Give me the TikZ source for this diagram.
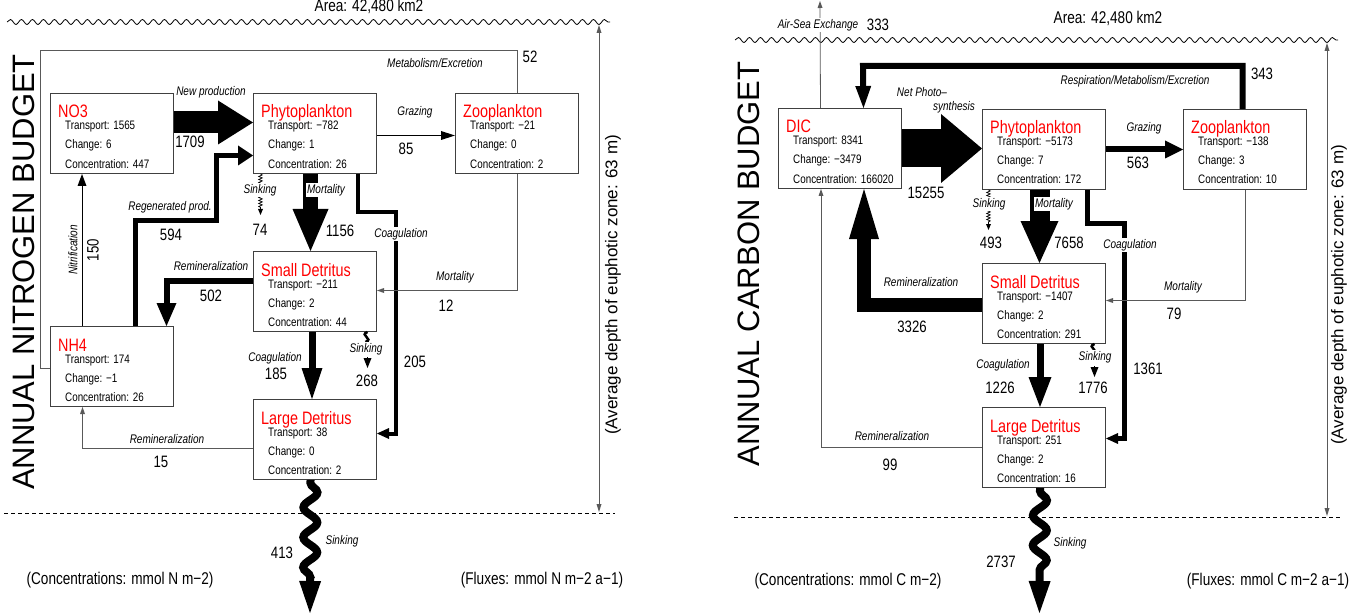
\documentclass[tikz,border=0pt]{standalone}
\usepackage{fontspec}
\setmainfont{Liberation Sans}
\newfontfamily\cf{Liberation Sans}[FakeStretch=0.8]
\usetikzlibrary{arrows.meta, decorations.pathmorphing}

% one compartment: box plus its four lines of text
\newcommand{\compartment}[6]{%
  \node [box] (#1) at (#2) {};
  \node [boxtitle] (#1-name) at ([shift={(8pt,-25pt)}]#1.north west) {#3};
  \node [boxline] (#1-tr) at ([shift={(15pt,-37pt)}]#1.north west) {Transport: #4};
  \node [boxline] (#1-ch) at ([shift={(15pt,-56pt)}]#1.north west) {Change: #5};
  \node [boxline] (#1-co) at ([shift={(15pt,-75pt)}]#1.north west) {Concentration: #6};
}

\begin{document}
\begin{tikzpicture}[
    x=1pt, y=-1pt,
    box/.style={draw=black!75, line width=1pt, fill=white, anchor=north west, minimum width=123pt, minimum height=80pt, inner sep=0pt},
    boxtitle/.style={anchor=base west, inner sep=0pt, text=red, font=\cf\fontsize{18}{18}\selectfont},
    boxline/.style={anchor=base west, inner sep=0pt, font=\cf\fontsize{12.3}{12}\selectfont},
    lab/.style={inner sep=1pt, font=\cf\itshape\fontsize{12.5}{13}\selectfont},
    wlab/.style={lab, fill=white},
    num/.style={inner sep=0pt, font=\cf\fontsize{16.5}{17}\selectfont},
    note/.style={inner sep=0pt, font=\cf\fontsize{17}{17}\selectfont},
    budget/.style={rotate=90, inner sep=0pt, font=\fontsize{31}{31}\selectfont},
    depthtext/.style={rotate=90, inner sep=0pt, font=\fontsize{17}{17}\selectfont},
    fat/.style n args={3}{line width=#1, -{Triangle[length=#2, width=#3, line width=0pt]}},
    thinline/.style={black!65, line width=0.8pt},
    thinflow/.style={thinline, -{Triangle[length=7pt, width=5pt, line width=0pt]}},
    depthline/.style={thinline, {Triangle[length=8pt, width=5pt, line width=0pt]}-{Triangle[length=8pt, width=5pt, line width=0pt]}},
    surface/.style={line width=0.8pt, decorate, decoration={snake, amplitude=2.5pt, segment length=11pt}},
    horizon/.style={line width=0.7pt, dash pattern=on 4pt off 3pt},
    squiggle/.style={line width=0.7pt, decorate, decoration={snake, amplitude=1.8pt, segment length=3pt, post length=7pt}, -{Triangle[length=6pt, width=5pt, line width=0pt]}},
    hook/.style={line width=2.5pt},
    bigsink/.style={line width=8pt, decorate, decoration={snake, amplitude=7pt, segment length=30pt, pre length=3pt, post length=34pt}, -{Triangle[length=32pt, width=22pt, line width=0pt]}}
]
\useasboundingbox (0,0) rectangle (1369,615);

% ---------------- nitrogen budget ----------------
\draw [surface] (7,22) -- (610,22);
\draw [horizon] (4,513) -- (615,513);
\draw [depthline] (599,25) -- (599,512);
\node [note, anchor=base] (narea) at (369,11.5) {Area: 42,480 km2};
\node [budget] (ntitle) at (24,272) {ANNUAL NITROGEN BUDGET};
\node [depthtext] (ndepth) at (613,285) {(Average depth of euphotic zone: 63 m)};

\compartment{no3}{50,93}{NO3}{1565}{6}{447}
\compartment{phyn}{253,93}{Phytoplankton}{−782}{1}{26}
\compartment{zoon}{455,93}{Zooplankton}{−21}{0}{2}
\compartment{sdn}{253,251}{Small Detritus}{−211}{2}{44}
\compartment{nh4}{50,326}{NH4}{174}{−1}{26}
\compartment{ldn}{253,399}{Large Detritus}{38}{0}{2}

\coordinate (nsinkend) at (310,613);
\coordinate (nsdsink) at ([xshift=52.5pt]sdn.south);

\draw [fat={22pt}{35pt}{44pt}] ([yshift=11pt]no3.east) -- ([yshift=11pt]phyn.west);
\draw [fat={5pt}{15pt}{20pt}] ([xshift=23pt]nh4.north) -- ++(0,-106) -- ++(81.5,0) |- ([yshift=-22pt]phyn.west);
\draw [line width=1pt, -{Triangle[length=12pt, width=9pt, line width=0pt]}] ([xshift=-30pt]nh4.north) -- ([xshift=-30pt]no3.south);
\draw [thinline] (zoon.north) |- (40,50) |- ([yshift=-2pt]nh4.west);
\draw [line width=1pt, -{Triangle[length=14pt, width=9pt, line width=0pt]}] ([yshift=-2pt]phyn.east) -- ([yshift=-2pt]zoon.west);
\draw [fat={15pt}{42pt}{36pt}] ([xshift=-4.5pt]phyn.south) -- ([xshift=-4.5pt]sdn.north);
\draw [squiggle] ([xshift=-54.5pt]phyn.south) -- ++(0,41);
\draw [fat={4pt}{12pt}{11pt}] ([xshift=43pt]phyn.south) |- (396,212) |- ([yshift=6pt]ldn.east);
\draw [fat={6pt}{23pt}{20pt}] ([yshift=11pt]sdn.west) -| ([xshift=54.5pt]nh4.north);
\draw [thinflow] (zoon.south) |- ([yshift=1pt]sdn.east);
\draw [fat={7pt}{31pt}{21pt}] ([xshift=-3pt]sdn.south) -- ([xshift=-3pt]ldn.north);
\draw [hook] (nsdsink) .. controls ([shift={(-9pt,-3pt)}]nsdsink) and ([shift={(7pt,-7pt)}]nsdsink) .. ([shift={(-2pt,-10pt)}]nsdsink);
\draw [-{Triangle[length=10pt, width=8pt, line width=0pt]}] ([yshift=-25pt]nsdsink) -- ([yshift=-36pt]nsdsink);
\draw [thinflow] ([yshift=-9pt]ldn.west) -| ([xshift=-29.5pt]nh4.south);
\draw [bigsink] ([xshift=-4.5pt]ldn.south) -- (nsinkend);

\node [lab] (nnewprod) at (211,92) {New production};
\node [num] (nnewprodv) at (190,142) {1709};
\node [lab] (nregen) at (170,207) {Regenerated prod.};
\node [num] (nregenv) at (171,235) {594};
\node [lab, rotate=90] (nnitri) at (73,250) {Nitrification};
\node [num, rotate=90] (nnitriv) at (93,250) {150};
\node [lab] (nmetab) at (435,63) {Metabolism/Excretion};
\node [num] (nmetabv) at (530,57) {52};
\node [lab] (ngraz) at (415,112) {Grazing};
\node [num] (ngrazv) at (406,149) {85};
\node [wlab] (nmort) at (326,190) {Mortality};
\node [num] (nmortv) at (340,231) {1156};
\node [wlab] (nsinkp) at (260,190) {Sinking};
\node [num] (nsinkpv) at (260,230) {74};
\node [wlab] (ncoagp) at (401,234) {Coagulation};
\node [num] (ncoagpv) at (415,362) {205};
\node [lab] (nremsd) at (211,266) {Remineralization};
\node [num] (nremsdv) at (211,296) {502};
\node [lab] (nmortz) at (455,277) {Mortality};
\node [num] (nmortzv) at (446,306) {12};
\node [lab] (ncoagsd) at (275,358) {Coagulation};
\node [num] (ncoagsdv) at (276,374) {185};
\node [wlab] (nsinksd) at (366,349) {Sinking};
\node [num] (nsinksdv) at (367,381) {268};
\node [lab] (nremld) at (167,439) {Remineralization};
\node [num] (nremldv) at (161,462) {15};
\node [lab] (nsinkld) at (342,541) {Sinking};
\node [num] (nsinkldv) at (282,553) {413};
\node [note] (nconc) at (120,580) {(Concentrations: mmol N m−2)};
\node [note] (nflux) at (542,580) {(Fluxes: mmol N m−2 a−1)};

% ---------------- carbon budget ----------------
\draw [surface] (735,40) -- (1338,40);
\draw [horizon] (734,517) -- (1341,517);
\draw [depthline] (1327,43) -- (1327,516);
\node [note, anchor=base] (carea) at (1108,24) {Area: 42,480 km2};
\node [budget] (ctitle) at (749,264) {ANNUAL CARBON BUDGET};
\node [depthtext] (cdepth) at (1339,295) {(Average depth of euphotic zone: 63 m)};

\compartment{dic}{778,108}{DIC}{8341}{−3479}{166020}
\compartment{phyc}{982,109}{Phytoplankton}{−5173}{7}{172}
\compartment{zooc}{1183,109}{Zooplankton}{−138}{3}{10}
\compartment{sdc}{982,263}{Small Detritus}{−1407}{2}{291}
\compartment{ldc}{982,407}{Large Detritus}{251}{2}{16}

\coordinate (airsea) at (820,1);
\coordinate (csinkend) at (1039.5,613);
\coordinate (csdsink) at ([xshift=50.5pt]sdc.south);

\draw [thinflow] ([xshift=-19.5pt]dic.north) -- (airsea);
\draw [fat={38pt}{41pt}{69pt}] (dic.east) -- (dic.east -| phyc.west);
\draw [fat={6pt}{18pt}{18pt}] (phyc.east) -- (zooc.west);
\draw [fat={6pt}{22pt}{16pt}] ([xshift=-2.5pt]zooc.north) |- (863,66) -- ([xshift=23.5pt]dic.north);
\draw [fat={20pt}{42pt}{38pt}] ([xshift=-4.5pt]phyc.south) -- ([xshift=-4.5pt]sdc.north);
\draw [squiggle] ([xshift=-55.5pt]phyc.south) -- ++(0,40);
\draw [fat={5pt}{12pt}{11pt}] ([xshift=43.5pt]phyc.south) |- (1124,223) |- ([yshift=9pt]ldc.east);
\draw [fat={14pt}{50pt}{30pt}] ([yshift=-1pt]sdc.west) -| ([xshift=24pt]dic.south);
\draw [thinflow] (zooc.south) |- ([yshift=3pt]sdc.east);
\draw [fat={7pt}{30pt}{23pt}] ([xshift=-4pt]sdc.south) -- ([xshift=-4pt]ldc.north);
\draw [hook] (csdsink) .. controls ([shift={(-9pt,-3pt)}]csdsink) and ([shift={(7pt,-7pt)}]csdsink) .. ([shift={(-2pt,-10pt)}]csdsink);
\draw [-{Triangle[length=10pt, width=8pt, line width=0pt]}] ([yshift=-22pt]csdsink) -- ([yshift=-33pt]csdsink);
\draw [thinflow] (ldc.west) -| ([xshift=-19pt]dic.south);
\draw [bigsink] ([xshift=-4pt]ldc.south) -- (csinkend);

\node [wlab] (cairsea) at (818,25) {Air-Sea Exchange};
\node [num] (cairseav) at (878,25) {333};
\node [lab] (cresp) at (1135,81) {Respiration/Metabolism/Excretion};
\node [num] (crespv) at (1262,74) {343};
\node [lab] (cphot) at (922,92) {Net Photo–};
\node [lab] (cphotb) at (954,107) {synthesis};
\node [num] (cphotv) at (926,193) {15255};
\node [lab] (cgraz) at (1144,128) {Grazing};
\node [num] (cgrazv) at (1138,163) {563};
\node [wlab] (cmort) at (1054,204) {Mortality};
\node [num] (cmortv) at (1069,243) {7658};
\node [wlab] (csinkp) at (989,204) {Sinking};
\node [num] (csinkpv) at (991,243) {493};
\node [wlab] (ccoagp) at (1130,245) {Coagulation};
\node [num] (ccoagpv) at (1148,369) {1361};
\node [lab] (cremsd) at (921,282) {Remineralization};
\node [num] (cremsdv) at (912,327) {3326};
\node [lab] (cmortz) at (1183,287) {Mortality};
\node [num] (cmortzv) at (1174,314) {79};
\node [lab] (ccoagsd) at (1003,365) {Coagulation};
\node [num] (ccoagsdv) at (1000,388) {1226};
\node [wlab] (csinksd) at (1095,357) {Sinking};
\node [num] (csinksdv) at (1093,388) {1776};
\node [lab] (cremld) at (892,436) {Remineralization};
\node [num] (cremldv) at (890,465) {99};
\node [lab] (csinkld) at (1070,543) {Sinking};
\node [num] (csinkldv) at (1001,562) {2737};
\node [note] (cconc) at (848,581) {(Concentrations: mmol C m−2)};
\node [note] (cflux) at (1268,581) {(Fluxes: mmol C m−2 a−1)};
\end{tikzpicture}
\end{document}
